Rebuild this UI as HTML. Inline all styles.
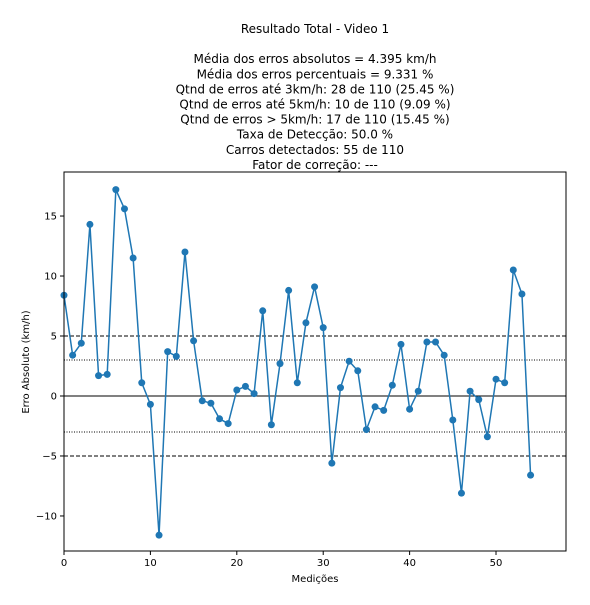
<!DOCTYPE html>
<html><head><meta charset="utf-8">
<style>
body{margin:0;background:#fff;}
svg{display:block;font-family:"DejaVu Sans","Liberation Sans",sans-serif;}
</style></head>
<body>
<svg id="chart" width="590" height="605"></svg>
<script>
const measurements = [0,1,2,3,4,5,6,7,8,9,10,11,12,13,14,15,16,17,18,19,20,21,22,23,24,25,26,27,28,29,30,31,32,33,34,35,36,37,38,39,40,41,42,43,44,45,46,47,48,49,50,51,52,53,54];
const errors = [8.4,3.4,4.4,14.3,1.7,1.8,17.2,15.6,11.5,1.1,-0.7,-11.6,3.7,3.3,12.0,4.6,-0.4,-0.6,-1.9,-2.3,0.5,0.8,0.2,7.1,-2.4,2.7,8.8,1.1,6.1,9.1,5.7,-5.6,0.7,2.9,2.1,-2.8,-0.9,-1.2,0.9,4.3,-1.1,0.4,4.5,4.5,3.4,-2.0,-8.1,0.4,-0.3,-3.4,1.4,1.1,10.5,8.5,-6.6];
const xTicks = [0,10,20,30,40,50];
const yTicks = [-10,-5,0,5,10,15];
const titleLines = ["Resultado Total - Video 1","","Média dos erros absolutos =  4.395 km/h","Média dos erros percentuais = 9.331 %","Qtnd de erros até 3km/h: 28 de 110 (25.45 %)","Qtnd de erros até 5km/h: 10 de 110 (9.09 %)","Qtnd de erros > 5km/h: 17 de 110 (15.45 %)","Taxa de Detecção: 50.0 %","Carros detectados: 55 de 110","Fator de correção: ---"];

const L=64,R=566,T=172,B=551;
const xMin=0,xMax=58.1,yMin=-12.92,yMax=18.67;
const sx=v=>L+(v-xMin)/(xMax-xMin)*(R-L);
const sy=v=>B-(v-yMin)/(yMax-yMin)*(B-T);
const svg=document.getElementById('chart');
const NS='http://www.w3.org/2000/svg';
function mk(tag,attrs,parent){const e=document.createElementNS(NS,tag);for(const k in attrs)e.setAttribute(k,attrs[k]);(parent||svg).appendChild(e);return e;}

titleLines.forEach((t,i)=>{
  const e=mk('text',{x:315,y:33+i*15.1,'text-anchor':'middle','font-size':12,fill:'#000'});
  e.textContent=t;
  
  
});

[[5,'4,2'],[-5,'4,2'],[3,'1,1.5'],[-3,'1,1.5'],[0,'']].forEach(([v,d])=>{
  const e=mk('line',{x1:L,x2:R,y1:sy(v),y2:sy(v),stroke:'#000','stroke-width':1,'stroke-dasharray':d});
  
  
});

const pts=errors.map((v,i)=>sx(measurements[i])+','+sy(v)).join(' ');
const pl=mk('polyline',{points:pts,fill:'none',stroke:'#1f77b4','stroke-width':1.5});


errors.forEach((v,i)=>{
  const c=mk('circle',{cx:sx(measurements[i]),cy:sy(v),r:3.5,fill:'#1f77b4'});
  
  
});

const fr=mk('rect',{x:L,y:T,width:R-L,height:B-T,fill:'none',stroke:'#000','stroke-width':1});



xTicks.forEach(v=>{
  mk('line',{x1:sx(v),x2:sx(v),y1:B,y2:B+4,stroke:'#000'});
  const t=mk('text',{x:sx(v),y:B+15,'text-anchor':'middle','font-size':10});
  t.textContent=v;
  
  
});
yTicks.forEach(v=>{
  mk('line',{x1:L-4,x2:L,y1:sy(v),y2:sy(v),stroke:'#000'});
  const t=mk('text',{x:L-7,y:sy(v)+3.5,'text-anchor':'end','font-size':10});
  t.textContent=v<0?'\u2212'+(-v):v;
  
  
});
const xl=mk('text',{x:315,y:582,'text-anchor':'middle','font-size':10});
xl.textContent='Medições';


const yl=mk('text',{x:29,y:362,'text-anchor':'middle','font-size':10,transform:'rotate(-90 29 362)'});
yl.textContent='Erro Absoluto (km/h)';


</script>
</body></html>
